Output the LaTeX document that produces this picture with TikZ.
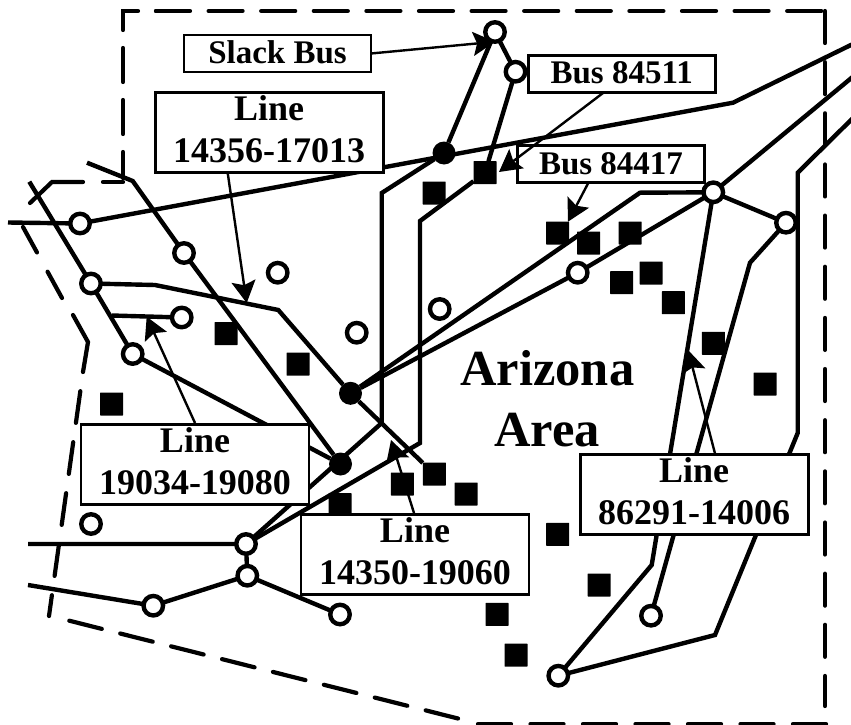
\documentclass[tikz,border=0pt]{standalone}
\usepackage{fontspec}
\setmainfont{Liberation Serif}
\usetikzlibrary{arrows.meta}
\tikzset{
  bus/.style={circle,draw=black,fill=white,line width=4.4pt,minimum size=19.5pt,inner sep=0pt,outer sep=0pt},
  hub/.style={circle,fill=black,minimum size=23pt,inner sep=0pt,outer sep=0pt},
  gen/.style={rectangle,fill=black,minimum size=23pt,inner sep=0pt,outer sep=0pt,rounded corners=0.5pt},
  wire/.style={line width=4.4pt,line join=miter,line cap=butt},
  border/.style={line width=4.2pt,line cap=round,line join=miter},
  callout/.style={line width=2.4pt,-{Stealth[length=22pt,width=24pt,inset=4pt]}},
  tagone/.style={rectangle,draw=black,fill=white,line width=2.7pt,inner sep=0pt,outer sep=0pt,
     font=\bfseries\fontsize{33}{38}\selectfont,text height=23pt,text depth=3pt,minimum height=37pt,minimum width=187pt},
  tagtwo/.style={rectangle,draw=black,fill=white,line width=2.7pt,inner sep=0pt,outer sep=0pt,align=center,
     font=\bfseries\fontsize{36}{41.6}\selectfont,text height=63pt,text depth=3pt,minimum height=80pt,minimum width=228pt},
}
\begin{document}
\begin{tikzpicture}[x=1pt,y=-1pt]
\useasboundingbox (0,0) rectangle (851,725);
% boundary
\draw[border,dash pattern=on 34pt off 18pt,dash phase=8pt] (123,178) -- (123,11) -- (156,11);
\draw[border,dash pattern=on 34pt off 18.6pt] (156,11) -- (825,11);
\draw[border,dash pattern=on 32pt off 19.15pt] (825,11) -- (825,706);
\draw[border,dash pattern=on 33pt off 19.5pt] (478,724) -- (827,724);
\draw[border,dash pattern=on 33.5pt off 19pt] (69.3,620.7) -- (458,718.5);
\draw[border,dash pattern=on 32pt off 19.5pt,dash phase=11pt] (49,616) -- (83,372);
\draw[border] (83,372) -- (88,342) -- (73,315);
\draw[border,dash pattern=on 30pt off 22pt] (62,298) -- (23,227);
\draw[border] (30,203) -- (52,182) -- (83,182);
\draw[border] (103,182) -- (123,182);
% buses
\node[bus] (c1) at (495,32) {};
\node[bus] (c2) at (515.5,71.7) {};
\node[bus] (c3) at (80,223.5) {};
\node[bus] (c4) at (184,253) {};
\node[bus] (c5) at (277.7,272.7) {};
\node[bus] (c6) at (91,283.5) {};
\node[bus] (c7) at (181.7,317.5) {};
\node[bus] (c8) at (356.7,332.7) {};
\node[bus] (c9) at (132.7,354) {};
\node[bus] (c10) at (439.7,309) {};
\node[bus] (c11) at (577.7,272.7) {};
\node[bus] (c12) at (713.3,192.3) {};
\node[bus] (c13) at (786,222.7) {};
\node[bus] (c14) at (91,524) {};
\node[bus] (c15) at (246,544) {};
\node[bus] (c16) at (247.3,575.7) {};
\node[bus] (c17) at (153.3,605.7) {};
\node[bus] (c18) at (340,614.5) {};
\node[bus] (c19) at (558.3,675.7) {};
\node[bus] (c20) at (651,615.7) {};
\node[hub] (h1) at (444,153) {};
\node[hub] (h2) at (350.5,393.3) {};
\node[hub] (h3) at (340.5,464) {};
% generators
\node[gen] (s1) at (226,333.5) {};
\node[gen] (s2) at (298,364) {};
\node[gen] (s3) at (485,172.7) {};
\node[gen] (s4) at (434,193) {};
\node[gen] (s5) at (557.7,233) {};
\node[gen] (s6) at (588.5,243) {};
\node[gen] (s7) at (630,233) {};
\node[gen] (s8) at (621.7,282.7) {};
\node[gen] (s9) at (651,273) {};
\node[gen] (s10) at (673.3,302.7) {};
\node[gen] (s11) at (713.3,343.3) {};
\node[gen] (s12) at (111.7,404) {};
\node[gen] (s13) at (340,504.5) {};
\node[gen] (s14) at (402.3,484) {};
\node[gen] (s15) at (765,384) {};
\node[gen] (s16) at (434.3,474) {};
\node[gen] (s17) at (466,494) {};
\node[gen] (s18) at (557.7,534.3) {};
\node[gen] (s19) at (599,585) {};
\node[gen] (s20) at (497,614.3) {};
\node[gen] (s21) at (516,655) {};
% free ends and bends
\coordinate (w1) at (8,222.5);
\coordinate (w2) at (733,102.7);
\coordinate (w3) at (855,43);
\coordinate (w4) at (29.3,181.7);
\coordinate (w5) at (87,162.7);
\coordinate (w6) at (132.7,181);
\coordinate (w7) at (155,285);
\coordinate (w8) at (278.3,310);
\coordinate (w9) at (111.7,315.5);
\coordinate (w10) at (381.7,193);
\coordinate (w11) at (381.7,423);
\coordinate (w12) at (420,221);
\coordinate (w13) at (420,443);
\coordinate (w14) at (640,192.7);
\coordinate (w15) at (855,75);
\coordinate (w16) at (750,262.7);
\coordinate (w17) at (651.7,565);
\coordinate (w18) at (715,635);
\coordinate (w19) at (797.7,433);
\coordinate (w20) at (797.7,172.7);
\coordinate (w21) at (855,116);
\coordinate (w22) at (28,544);
\coordinate (w23) at (28,585);
% network
\draw[wire] (w1) -- (c3) -- (w2) -- (w3);
\draw[wire] (w4) -- (c6) -- (c9) -- (h3);
\draw[wire] (w5) -- (w6) -- (c4) -- (h3);
\draw[wire] (c6) -- (w7) -- (w8) -- (h2) -- (s16);
\draw[wire] (w9) -- (c7);
\draw[wire] (h1) -- (c1) -- (c2) -- (s3);
\draw[wire] (h1) -- (w10) -- (w11) -- (c15);
\draw[wire] (s3) -- (w12) -- (w13) -- (c15);
\draw[wire] (h2) -- (w14) -- (c12) -- (w15);
\draw[wire] (h2) -- (c11) -- (c12);
\draw[wire] (c12) -- (c13) -- (w16) -- (c20);
\draw[wire] (c12) -- (w17) -- (c19) -- (w18) -- (w19) -- (w20) -- (w21);
\draw[wire] (w22) -- (c15) -- (c16);
\draw[wire] (w23) -- (c17) -- (c16) -- (c18);
% tags
\node[tagone] (tslack) at (277.5,53.5) {Slack Bus};
\node[tagone] (t511) at (621.7,73.7) {Bus 84511};
\node[tagone] (t417) at (611,164.2) {Bus 84417};
\node[tagtwo] (t356) at (269.2,132.3) {Line\\14356-17013};
\node[tagtwo] (t034) at (195,464.2) {Line\\19034-19080};
\node[tagtwo] (t350) at (415,554.3) {Line\\14350-19060};
\node[tagtwo] (t291) at (694.2,494.2) {Line\\86291-14006};
\node[font=\bfseries\fontsize{50.5}{61}\selectfont,align=center,inner sep=0pt,text height=95pt,text depth=3pt] (area) at (547.3,400) {Arizona\\Area};
% callouts
\coordinate (a1) at (603,93);
\coordinate (a2) at (499,172);
\coordinate (a3) at (588,183.5);
\coordinate (a4) at (568,221.7);
\coordinate (a5) at (227.7,173);
\coordinate (a6) at (246.7,303);
\coordinate (a7) at (195,423);
\coordinate (a8) at (146.7,316.7);
\coordinate (a9) at (414,513);
\coordinate (a10) at (391,440);
\coordinate (a11) at (715,453.5);
\coordinate (a12) at (688,350);
\draw[callout] (tslack.east) -- (c1.south);
\draw[callout] (a1) -- (a2);
\draw[callout] (a3) -- (a4);
\draw[callout] (a5) -- (a6);
\draw[callout] (a7) -- (a8);
\draw[callout] (a9) -- (a10);
\draw[callout] (a11) -- (a12);
\end{tikzpicture}
\end{document}
